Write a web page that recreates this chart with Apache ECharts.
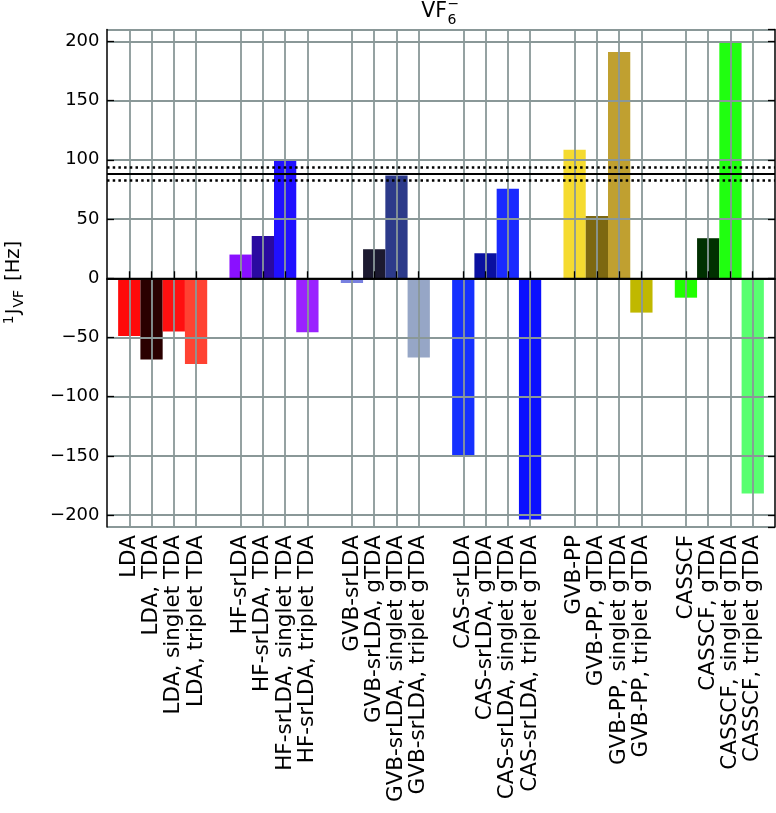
<!DOCTYPE html>
<html><head><meta charset="utf-8">
<script src="https://cdn.jsdelivr.net/npm/echarts@6/dist/echarts.min.js"></script>
<style>html,body{margin:0;padding:0;background:#fff}#c{width:776px;height:813px}</style>
</head><body><div id="c"></div>
<script>
const labels = [
  'LDA','LDA, TDA','LDA, singlet TDA','LDA, triplet TDA',
  'HF-srLDA','HF-srLDA, TDA','HF-srLDA, singlet TDA','HF-srLDA, triplet TDA',
  'GVB-srLDA','GVB-srLDA, gTDA','GVB-srLDA, singlet gTDA','GVB-srLDA, triplet gTDA',
  'CAS-srLDA','CAS-srLDA, gTDA','CAS-srLDA, singlet gTDA','CAS-srLDA, triplet gTDA',
  'GVB-PP','GVB-PP, gTDA','GVB-PP, singlet gTDA','GVB-PP, triplet gTDA',
  'CASSCF','CASSCF, gTDA','CASSCF, singlet gTDA','CASSCF, triplet gTDA'
];
const values = [
  -48.7, -68.5, -45.0, -72.4,
  20.0, 35.7, 100.3, -45.5,
  -4.0, 24.5, 86.7, -66.8,
  -149.3, 21.1, 75.5, -203.7,
  108.4, 52.6, 191.0, -29.0,
  -16.4, 33.8, 199.1, -181.7
];
const colors = [
  '#ff0a0a','#2a0000','#ff1010','#ff4232',
  '#8a10ff','#2a0aa0','#2010ff','#9a22ff',
  '#7880e0','#1c1a30','#2c3a8a','#96a6c6',
  '#1530ff','#0a10a0','#1a2aff','#0a10ff',
  '#f5db30','#7d6810','#c0a030','#c0b800',
  '#20ff00','#003000','#20ff10','#58ff70'
];
const groupSize = 4;
const refValue = 88.2;
const refUpper = 93.4;
const refLower = 83.0;
const yMin = -210, yMax = 210;

// build category axis with blank spacer positions
const categories = [];
const barData = [];
for (let i = 0; i < labels.length; i++) {
  if (i % groupSize === 0) { categories.push(''); barData.push('-'); }
  categories.push(labels[i]);
  barData.push({ value: values[i], itemStyle: { color: colors[i] } });
}
categories.push(''); barData.push('-');

const font = 'DejaVu Sans';
const gridColor = '#8a9898';
const notBlank = (i, v) => v !== '';

const chart = echarts.init(document.getElementById('c'), null, { renderer: 'canvas' });
chart.setOption({
  animation: false,
  backgroundColor: '#fff',
  grid: { left: 107, right: 1, top: 29.5, bottom: 286, containLabel: false },
  xAxis: [{
    type: 'category', data: categories, boundaryGap: false, position: 'bottom', z: 3,
    axisLine: { show: true, lineStyle: { color: '#000', width: 1.5 } },
    axisTick: { show: true, inside: true, length: 7, interval: notBlank, lineStyle: { color: '#000', width: 1.3 } },
    axisLabel: { interval: 0, rotate: 90, margin: 8, color: '#000', fontFamily: font, fontSize: 21.5 },
    splitLine: { show: true, interval: notBlank, lineStyle: { color: gridColor, width: 1.8 } }
  }, {
    type: 'category', data: categories, boundaryGap: false, position: 'top', z: 3,
    axisLine: { show: true, lineStyle: { color: '#000', width: 1.5 } },
    axisTick: { show: false }, axisLabel: { show: false }, splitLine: { show: false }
  }],
  yAxis: [{
    type: 'value', min: yMin, max: yMax, splitNumber: 8, position: 'left', z: 3,
    axisLine: { show: true, lineStyle: { color: '#000', width: 1.5 } },
    axisTick: { show: true, inside: true, length: 7, lineStyle: { color: '#000', width: 1.3 } },
    axisLabel: { color: '#000', fontFamily: font, fontSize: 18, margin: 7.5, showMinLabel: false, showMaxLabel: false,
      formatter: v => (v < 0 ? '\u2212' + Math.abs(v) : String(v)) },
    splitLine: { show: true, lineStyle: { color: gridColor, width: 1.8 } }
  }, {
    type: 'value', min: yMin, max: yMax, splitNumber: 8, position: 'right', z: 3,
    axisLine: { show: true, lineStyle: { color: '#000', width: 1.5 } },
    axisTick: { show: true, inside: true, length: 7, lineStyle: { color: '#000', width: 1.3 } },
    axisLabel: { show: false }, splitLine: { show: false }
  }],
  series: [{
    type: 'bar', data: barData, barWidth: '100%', z: 2, xAxisIndex: 0, yAxisIndex: 0,
    markLine: {
      silent: true, symbol: 'none', label: { show: false }, z: 5,
      data: [
        { yAxis: 0, lineStyle: { color: '#000', width: 1.3, type: 'solid' } },
        { yAxis: refValue, lineStyle: { color: '#000', width: 2.2, type: 'solid' } },
        { yAxis: refUpper, lineStyle: { color: '#000', width: 2.5, type: [2.5, 3.2] } },
        { yAxis: refLower, lineStyle: { color: '#000', width: 2.5, type: [2.5, 3.2] } }
      ]
    }
  }],
  graphic: [
    { type: 'text', x: 447, y: 11.5, style: { text: 'VF', fontFamily: font, fontSize: 20.5, fill: '#000', align: 'right', verticalAlign: 'middle' } },
    { type: 'text', x: 447.5, y: 20.5, style: { text: '6', fontFamily: font, fontSize: 14, fill: '#000', align: 'left', verticalAlign: 'middle' } },
    { type: 'text', x: 447.5, y: 4.5, style: { text: '\u2212', fontFamily: font, fontSize: 14, fill: '#000', align: 'left', verticalAlign: 'middle' } },
    { type: 'text', x: 14, y: 282.5, rotation: Math.PI / 2, style: {
      text: '{sup|1}{j|J}{sub|VF}{n|[Hz]}', fill: '#000', align: 'center', verticalAlign: 'middle',
      rich: {
        n: { fontFamily: font, fontSize: 19.5, fill: '#000', padding: [0, 0, 0, 9] },
        j: { fontFamily: font, fontSize: 19.5, fill: '#000', padding: [0, 1, 0, 0] },
        sup: { fontFamily: font, fontSize: 14, fill: '#000', padding: [0, 1, 10, 0] },
        sub: { fontFamily: font, fontSize: 14, fill: '#000', padding: [10, 0, 0, 0] }
      }
    } }
  ]
});
</script>
</body></html>
